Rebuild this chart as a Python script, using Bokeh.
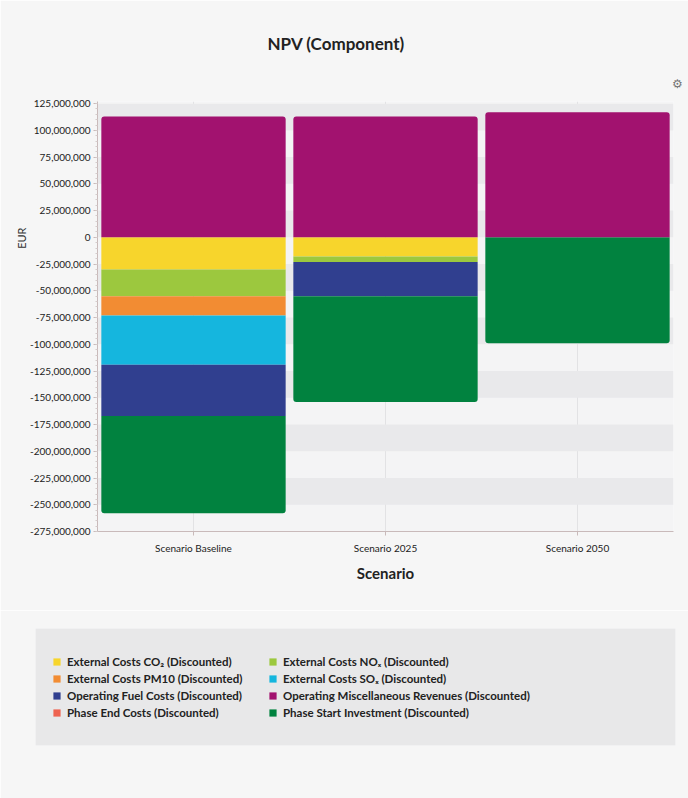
from bokeh.plotting import figure
from bokeh.layouts import column
from bokeh.models import (ColumnDataSource, Range1d, FactorRange, SingleIntervalTicker, FixedTicker,
                          NumeralTickFormatter, Legend, LegendItem, Title)
from bokeh.embed import file_html
from bokeh.resources import INLINE

# ---------------- data ----------------
scenarios = ["Scenario Baseline", "Scenario 2025", "Scenario 2050"]
ext_co2 = [-30e6, -18e6, 0]
ext_nox = [-25e6, -5e6, 0]
ext_pm10 = [-18e6, 0, 0]
ext_sox = [-46e6, 0, 0]
fuel_costs = [-48e6, -32e6, 0]
phase_end = [0, 0, 0]
phase_start = [-91e6, -99e6, -99e6]
misc_revenues = [113e6, 113e6, 117e6]

series_labels = {
    "co2": "External Costs CO\u2082 (Discounted)",
    "nox": "External Costs NO\u2093 (Discounted)",
    "pm10": "External Costs PM10 (Discounted)",
    "sox": "External Costs SO\u2093 (Discounted)",
    "fuel": "Operating Fuel Costs (Discounted)",
    "rev": "Operating Miscellaneous Revenues (Discounted)",
    "end": "Phase End Costs (Discounted)",
    "start": "Phase Start Investment (Discounted)",
}
series_colors = {
    "co2": "#f7d52c",
    "nox": "#9cc83e",
    "pm10": "#f28c33",
    "sox": "#15b6de",
    "fuel": "#303f8f",
    "rev": "#a2126f",
    "end": "#ee6351",
    "start": "#01823f",
}
legend_col1 = ["co2", "pm10", "fuel", "end"]
legend_col2 = ["nox", "sox", "rev", "start"]

src = ColumnDataSource(dict(scenario=scenarios, co2=ext_co2, nox=ext_nox, pm10=ext_pm10,
                            sox=ext_sox, fuel=fuel_costs, end=phase_end, start=phase_start,
                            rev=misc_revenues))

FONT = "Lato"
BG = "#f6f6f6"
Y_MIN, Y_MAX, STEP = -275e6, 127e6, 25e6
neg_keys = ["co2", "nox", "pm10", "sox", "fuel", "end", "start"]


def set_radius(renderer, radius):
    try:
        renderer.glyph.border_radius = radius
    except Exception:
        pass


def draw_bars(fig, visible=True):
    rs = fig.vbar_stack(neg_keys, x="scenario", width=0.96, source=src,
                        fill_color=[series_colors[k] for k in neg_keys], line_color=None,
                        visible=visible)
    out = dict(zip(neg_keys, rs))
    out["rev"] = fig.vbar(x="scenario", top="rev", bottom=0, width=0.96, source=src,
                          fill_color=series_colors["rev"], line_color=None, visible=visible)
    set_radius(out["rev"], (3, 3, 0, 0))
    set_radius(out["start"], (0, 0, 3, 3))
    return out


def no_frame_align(fig):
    try:
        fig.frame_align = False
    except Exception:
        pass


# ---------------- main chart ----------------
p = figure(x_range=FactorRange(*scenarios, range_padding=0),
           y_range=Range1d(Y_MIN, Y_MAX),
           width=688, height=610, output_backend="svg", toolbar_location=None,
           min_border_left=97, min_border_right=15, min_border_top=101, min_border_bottom=79)
no_frame_align(p)
p.border_fill_color = BG
p.background_fill_color = "#f4f4f5"
p.outline_line_color = None

draw_bars(p)

ticker = SingleIntervalTicker(interval=STEP, num_minor_ticks=5)
p.yaxis.ticker = ticker
p.yaxis.formatter = NumeralTickFormatter(format="0,0")
n0 = int(round(Y_MIN / STEP))
p.ygrid.ticker = FixedTicker(ticks=[i * STEP for i in range(n0, 6)])
p.ygrid.grid_line_color = None
p.ygrid.band_fill_color = "#e9e9eb"
p.ygrid.band_fill_alpha = 1
p.xgrid.grid_line_color = "#e2e2e4"

for ax in (p.xaxis[0], p.yaxis[0]):
    ax.axis_line_color = "#c9baba"
    ax.major_tick_line_color = "#c9baba"
    ax.minor_tick_line_color = "#d5cccc"
    ax.major_tick_in = 0
    ax.major_tick_out = 4
    ax.minor_tick_in = 0
    ax.minor_tick_out = 2
    ax.major_label_text_font = FONT
    ax.major_label_text_font_size = "10px"
    ax.major_label_text_color = "#222222"
p.yaxis.major_label_standoff = 3
p.xaxis.major_label_standoff = 6
p.xaxis.axis_label = "Scenario"
p.xaxis.axis_label_text_font = FONT
p.xaxis.axis_label_text_font_size = "15px"
p.xaxis.axis_label_text_font_style = "bold"
p.xaxis.axis_label_text_color = "#222222"
p.xaxis.axis_label_standoff = 7

# "EUR" as a left-side title, placed level with zero
eur = Title(text="EUR", align="right", offset=126, standoff=0,
            text_font=FONT, text_font_size="11px", text_font_style="normal",
            text_color="#333333")
p.add_layout(eur, "left")

gear = Title(text="\u2699", align="right", vertical_align="top", standoff=17, offset=-9,
             text_font_size="12px", text_color="#777777", text_font_style="normal")
p.add_layout(gear, "above")

p.title.text = "NPV (Component)"
p.title.align = "left"
p.title.offset = 170
p.title.vertical_align = "top"
p.title.standoff = 25
p.title.text_font = FONT
p.title.text_font_size = "17px"
p.title.text_font_style = "bold"
p.title.text_color = "#222222"

# ---------------- legend panel ----------------
lg = figure(width=688, height=188, output_backend="svg", toolbar_location=None,
            x_axis_type=None, y_axis_type=None,
            x_range=FactorRange(*scenarios), y_range=Range1d(1e9, 2e9),
            min_border_left=35, min_border_right=13, min_border_top=18, min_border_bottom=53)
no_frame_align(lg)
lg.border_fill_color = BG
lg.background_fill_color = "#e8e8e9"
lg.outline_line_color = None
lg.grid.visible = False

proxy = draw_bars(lg, visible=False)   # hidden copies, used only as legend swatches


def make_legend(keys, x):
    return Legend(items=[LegendItem(label=series_labels[k], renderers=[proxy[k]]) for k in keys],
                  location=(x, 24), orientation="vertical",
                  background_fill_alpha=0, border_line_color=None,
                  inactive_fill_alpha=0,
                  padding=0, spacing=0, margin=0,
                  glyph_width=9, glyph_height=9, label_height=17, label_standoff=6,
                  label_text_font=FONT, label_text_font_size="11.5px",
                  label_text_font_style="bold", label_text_color="#222222")


lg.add_layout(make_legend(legend_col1, 17), "center")
lg.add_layout(make_legend(legend_col2, 233), "center")

layout = column(p, lg, spacing=0)
open("out.html", "w").write(file_html(layout, INLINE))
